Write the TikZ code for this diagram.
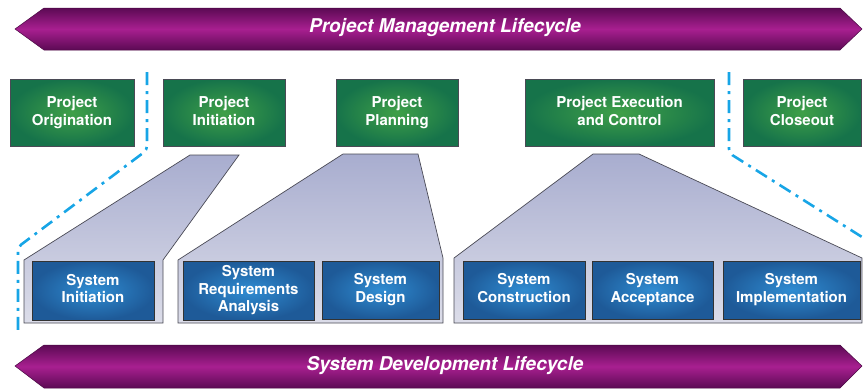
\documentclass[tikz,border=0pt]{standalone}
\usepackage{fontspec}
\setmainfont{TeX Gyre Heros}
\definecolor{grnout}{HTML}{16734A}
\definecolor{grnin}{HTML}{3FA048}
\definecolor{bluout}{HTML}{1E5A98}
\definecolor{bluin}{HTML}{2F8CD2}
\definecolor{trtop}{HTML}{A8ADCF}
\definecolor{trbot}{HTML}{DCDDE9}
\definecolor{purdark}{HTML}{5C0A54}
\definecolor{purlight}{HTML}{A81F90}
\definecolor{dashblue}{HTML}{17A5E6}
\definecolor{edgegrey}{HTML}{4A4A55}
\newcommand{\bxl}[1]{#1\strut}
\tikzset{
  pmbox/.style={draw=edgegrey,line width=0.8pt,shading=radial,inner color=grnin,outer color=grnout,
    text=white,font=\bfseries\fontsize{15}{18}\selectfont,align=center,inner sep=0pt},
  sdbox/.style={draw=black!80,line width=0.8pt,shading=radial,inner color=bluin,outer color=bluout,
    text=white,font=\bfseries\fontsize{15}{17.5}\selectfont,align=center,inner sep=0pt},
  funnel/.style={draw=edgegrey,line width=0.7pt,top color=trtop,bottom color=trbot},
  banner/.style={top color=purdark,bottom color=purdark,middle color=purlight,draw=purdark!80!black,line width=0.5pt},
  bannertext/.style={text=white,font=\bfseries\itshape\fontsize{19}{19}\selectfont},
  lifeline/.style={draw=dashblue,line width=2.6pt,dash pattern=on 13pt off 6pt on 3pt off 6pt,rounded corners=4pt}
}
\begin{document}
\begin{tikzpicture}[x=1pt,y=-1pt]
\useasboundingbox (0,0) rectangle (863,389);
% banners
\path[banner] (15,29) -- (44,8) -- (840,8) -- (862,29) -- (840,50) -- (44,50) -- cycle;
\node[bannertext] (pml) at (445,28) {Project Management Lifecycle};
\path[banner] (15,366) -- (44,345) -- (840,345) -- (862,366) -- (840,388) -- (44,388) -- cycle;
\node[bannertext] (sdl) at (445,366) {System Development Lifecycle};
% dash-dot lifeline separators
\draw[lifeline] (147,72) -- (147,150) -- (18,247) -- (18,333);
\draw[lifeline] (729,72) -- (729,153) -- (862,237);
% funnels
\path[funnel] (24,323) -- (24,260) -- (190,155) -- (239,155) -- (163,260) -- (163,323) -- cycle;
\path[funnel] (178,323) -- (178,260) -- (343,154) -- (418,154) -- (443,258) -- (443,323) -- cycle;
\path[funnel] (454,323) -- (454,258) -- (593,154) -- (639,154) -- (862,258) -- (862,323) -- cycle;
% project management boxes
\node[pmbox,minimum width=124pt,minimum height=67pt] (orig) at (72,112.5) {\bxl{Project}\\\bxl{Origination}};
\node[pmbox,minimum width=122pt,minimum height=67pt] (init) at (224,112.5) {\bxl{Project}\\\bxl{Initiation}};
\node[pmbox,minimum width=122pt,minimum height=67pt] (plan) at (397,112.5) {\bxl{Project}\\\bxl{Planning}};
\node[pmbox,minimum width=189pt,minimum height=67pt] (exec) at (619.5,112.5) {\bxl{Project Execution}\\\bxl{and Control}};
\node[pmbox,minimum width=118pt,minimum height=67pt] (close) at (802,112.5) {\bxl{Project}\\\bxl{Closeout}};
% system development boxes
\node[sdbox,minimum width=122pt,minimum height=59pt] (sinit) at (93,290.5) {\bxl{System}\\\bxl{Initiation}};
\node[sdbox,minimum width=131pt,minimum height=59pt] (sreq) at (248.5,290.5) {\bxl{System}\\\bxl{Requirements}\\\bxl{Analysis}};
\node[sdbox,minimum width=117pt,minimum height=58pt] (sdes) at (380.5,290) {\bxl{System}\\\bxl{Design}};
\node[sdbox,minimum width=122pt,minimum height=58pt] (scon) at (524,290) {\bxl{System}\\\bxl{Construction}};
\node[sdbox,minimum width=121pt,minimum height=58pt] (sacc) at (652.5,290) {\bxl{System}\\\bxl{Acceptance}};
\node[sdbox,minimum width=137pt,minimum height=58pt] (simp) at (791.5,290) {\bxl{System}\\\bxl{Implementation}};
\end{tikzpicture}
\end{document}
